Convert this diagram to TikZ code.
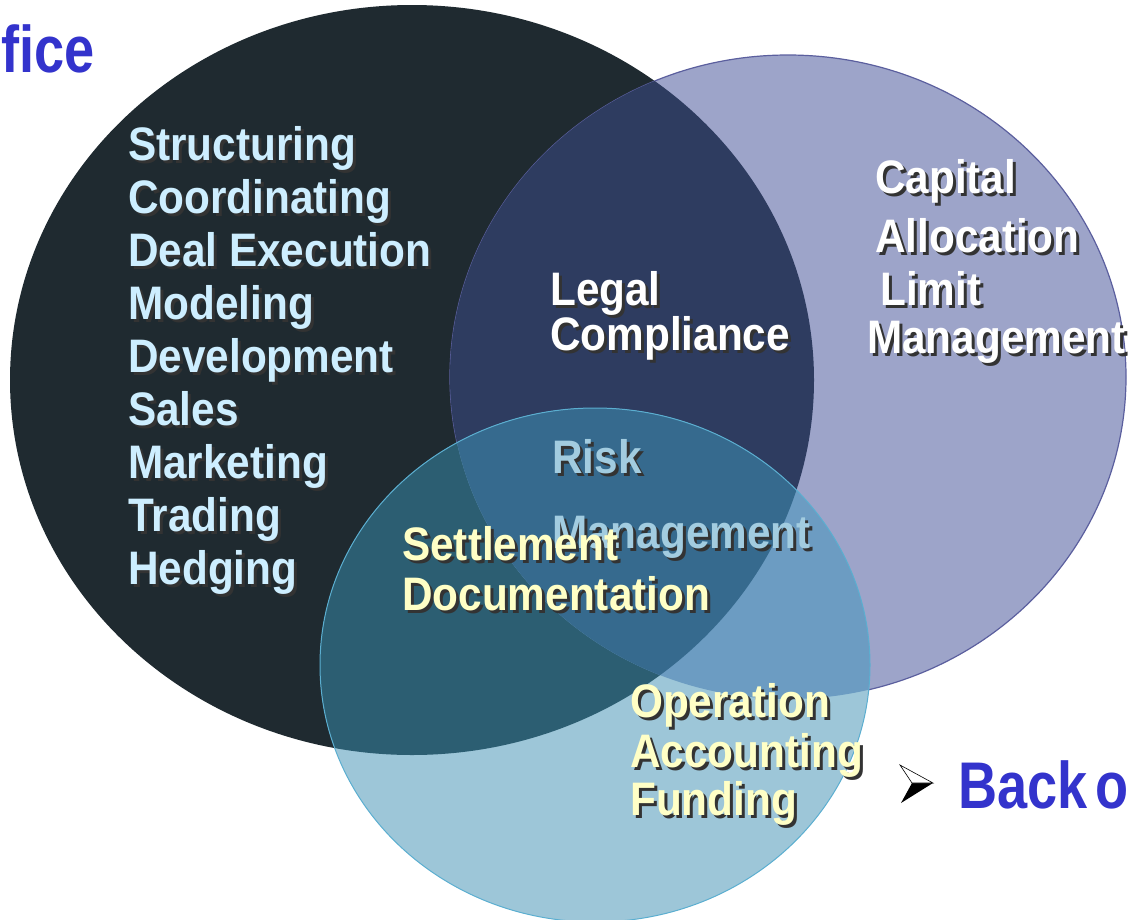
\documentclass[tikz,border=0pt]{standalone}
\usepackage{fontspec}
\newfontfamily\vennfont{Liberation Sans}[FakeStretch=0.9]
\newfontfamily\titlefont{Liberation Sans}[FakeStretch=0.82]

\definecolor{frontfill}{HTML}{1F2A30}
\definecolor{middlefill}{HTML}{9DA4C9}
\definecolor{backfill}{HTML}{9DC6D8}
\definecolor{frontmiddle}{HTML}{2E3C60}
\definecolor{frontback}{HTML}{2C5E72}
\definecolor{middleback}{HTML}{6C9CC2}
\definecolor{allthree}{HTML}{366A8E}
\definecolor{middleline}{HTML}{5B5F9E}
\definecolor{backline}{HTML}{5BAED0}
\definecolor{frontword}{HTML}{CDEEFF}
\definecolor{riskword}{HTML}{A2CCE0}
\definecolor{yellowword}{HTML}{FFFFC6}
\definecolor{officeblue}{HTML}{3333CC}

\tikzset{
  venn text/.style={font=\vennfont\bfseries\fontsize{47}{53}\selectfont,
    anchor=base west, inner sep=0pt},
  title text/.style={font=\titlefont\bfseries\fontsize{66}{70}\selectfont,
    text=officeblue, inner sep=0pt}
}

% the three areas
\def\frontpath{(412,380) ellipse [x radius=402, y radius=375]}
\def\middlepath{(788,377) ellipse [x radius=338, y radius=322]}
\def\backpath{(595,665) ellipse [x radius=275, y radius=257]}

% word with its shadow
\newcommand\shadowed[1]{\rlap{\kern3pt\raisebox{-3pt}{\color{black!80}#1}}#1}
\newcommand\vennword[4]{%
  \node[venn text, text=#3] (#1) at (#2) {\shadowed{#4}};}

\begin{document}
\begin{tikzpicture}[x=1pt,y=-1pt]
\useasboundingbox (0,0) rectangle (1135,919);

\fill[frontfill] \frontpath;
\fill[middlefill] \middlepath;
\draw[middleline, line width=1.2] \middlepath;
\begin{scope}
	\clip \frontpath;
	\fill[frontmiddle] \middlepath;
\end{scope}
\fill[backfill] \backpath;
\begin{scope}
	\clip \backpath;
	\fill[frontback] \frontpath;
	\fill[middleback] \middlepath;
	\clip \frontpath;
	\fill[allthree] \middlepath;
\end{scope}
\draw[backline, line width=1] \backpath;

% front office
\foreach \word [count=\i] in {Structuring,Coordinating,Deal Execution,Modeling,
	Development,Sales,Marketing,Trading,Hedging}
	\vennword{front\i}{128,{107+53*\i}}{frontword}{\word};

\vennword{legal}{550,305}{white}{Legal};
\vennword{compliance}{550,350}{white}{Compliance};

\vennword{capital}{875,193}{white}{Capital};
\vennword{allocation}{875,252}{white}{Allocation};
\vennword{limit}{880,305}{white}{Limit};
\vennword{limitman}{867,353}{white}{Management};

\vennword{risk}{552,473}{riskword}{Risk};
\vennword{riskman}{552,548}{riskword}{Management};

\vennword{settlement}{402,560}{yellowword}{Settlement};
\vennword{documentation}{402,610}{yellowword}{Documentation};

\vennword{operation}{630,717}{yellowword}{Operation};
\vennword{accounting}{630,767}{yellowword}{Accounting};
\vennword{funding}{630,815}{yellowword}{Funding};

% titles
\node[title text, anchor=base west] (office) at (1,72) {fice};
\fill[black] (912,783) -- (933,783) -- (901,803) -- cycle;
\draw[black, line width=0.6, fill=white] (900,765) -- (933,783) -- (912,783) -- cycle;
\node[title text, anchor=base west] (backoffice) at (958,808) {Back\hspace{0.12em}o};
\end{tikzpicture}
\end{document}
